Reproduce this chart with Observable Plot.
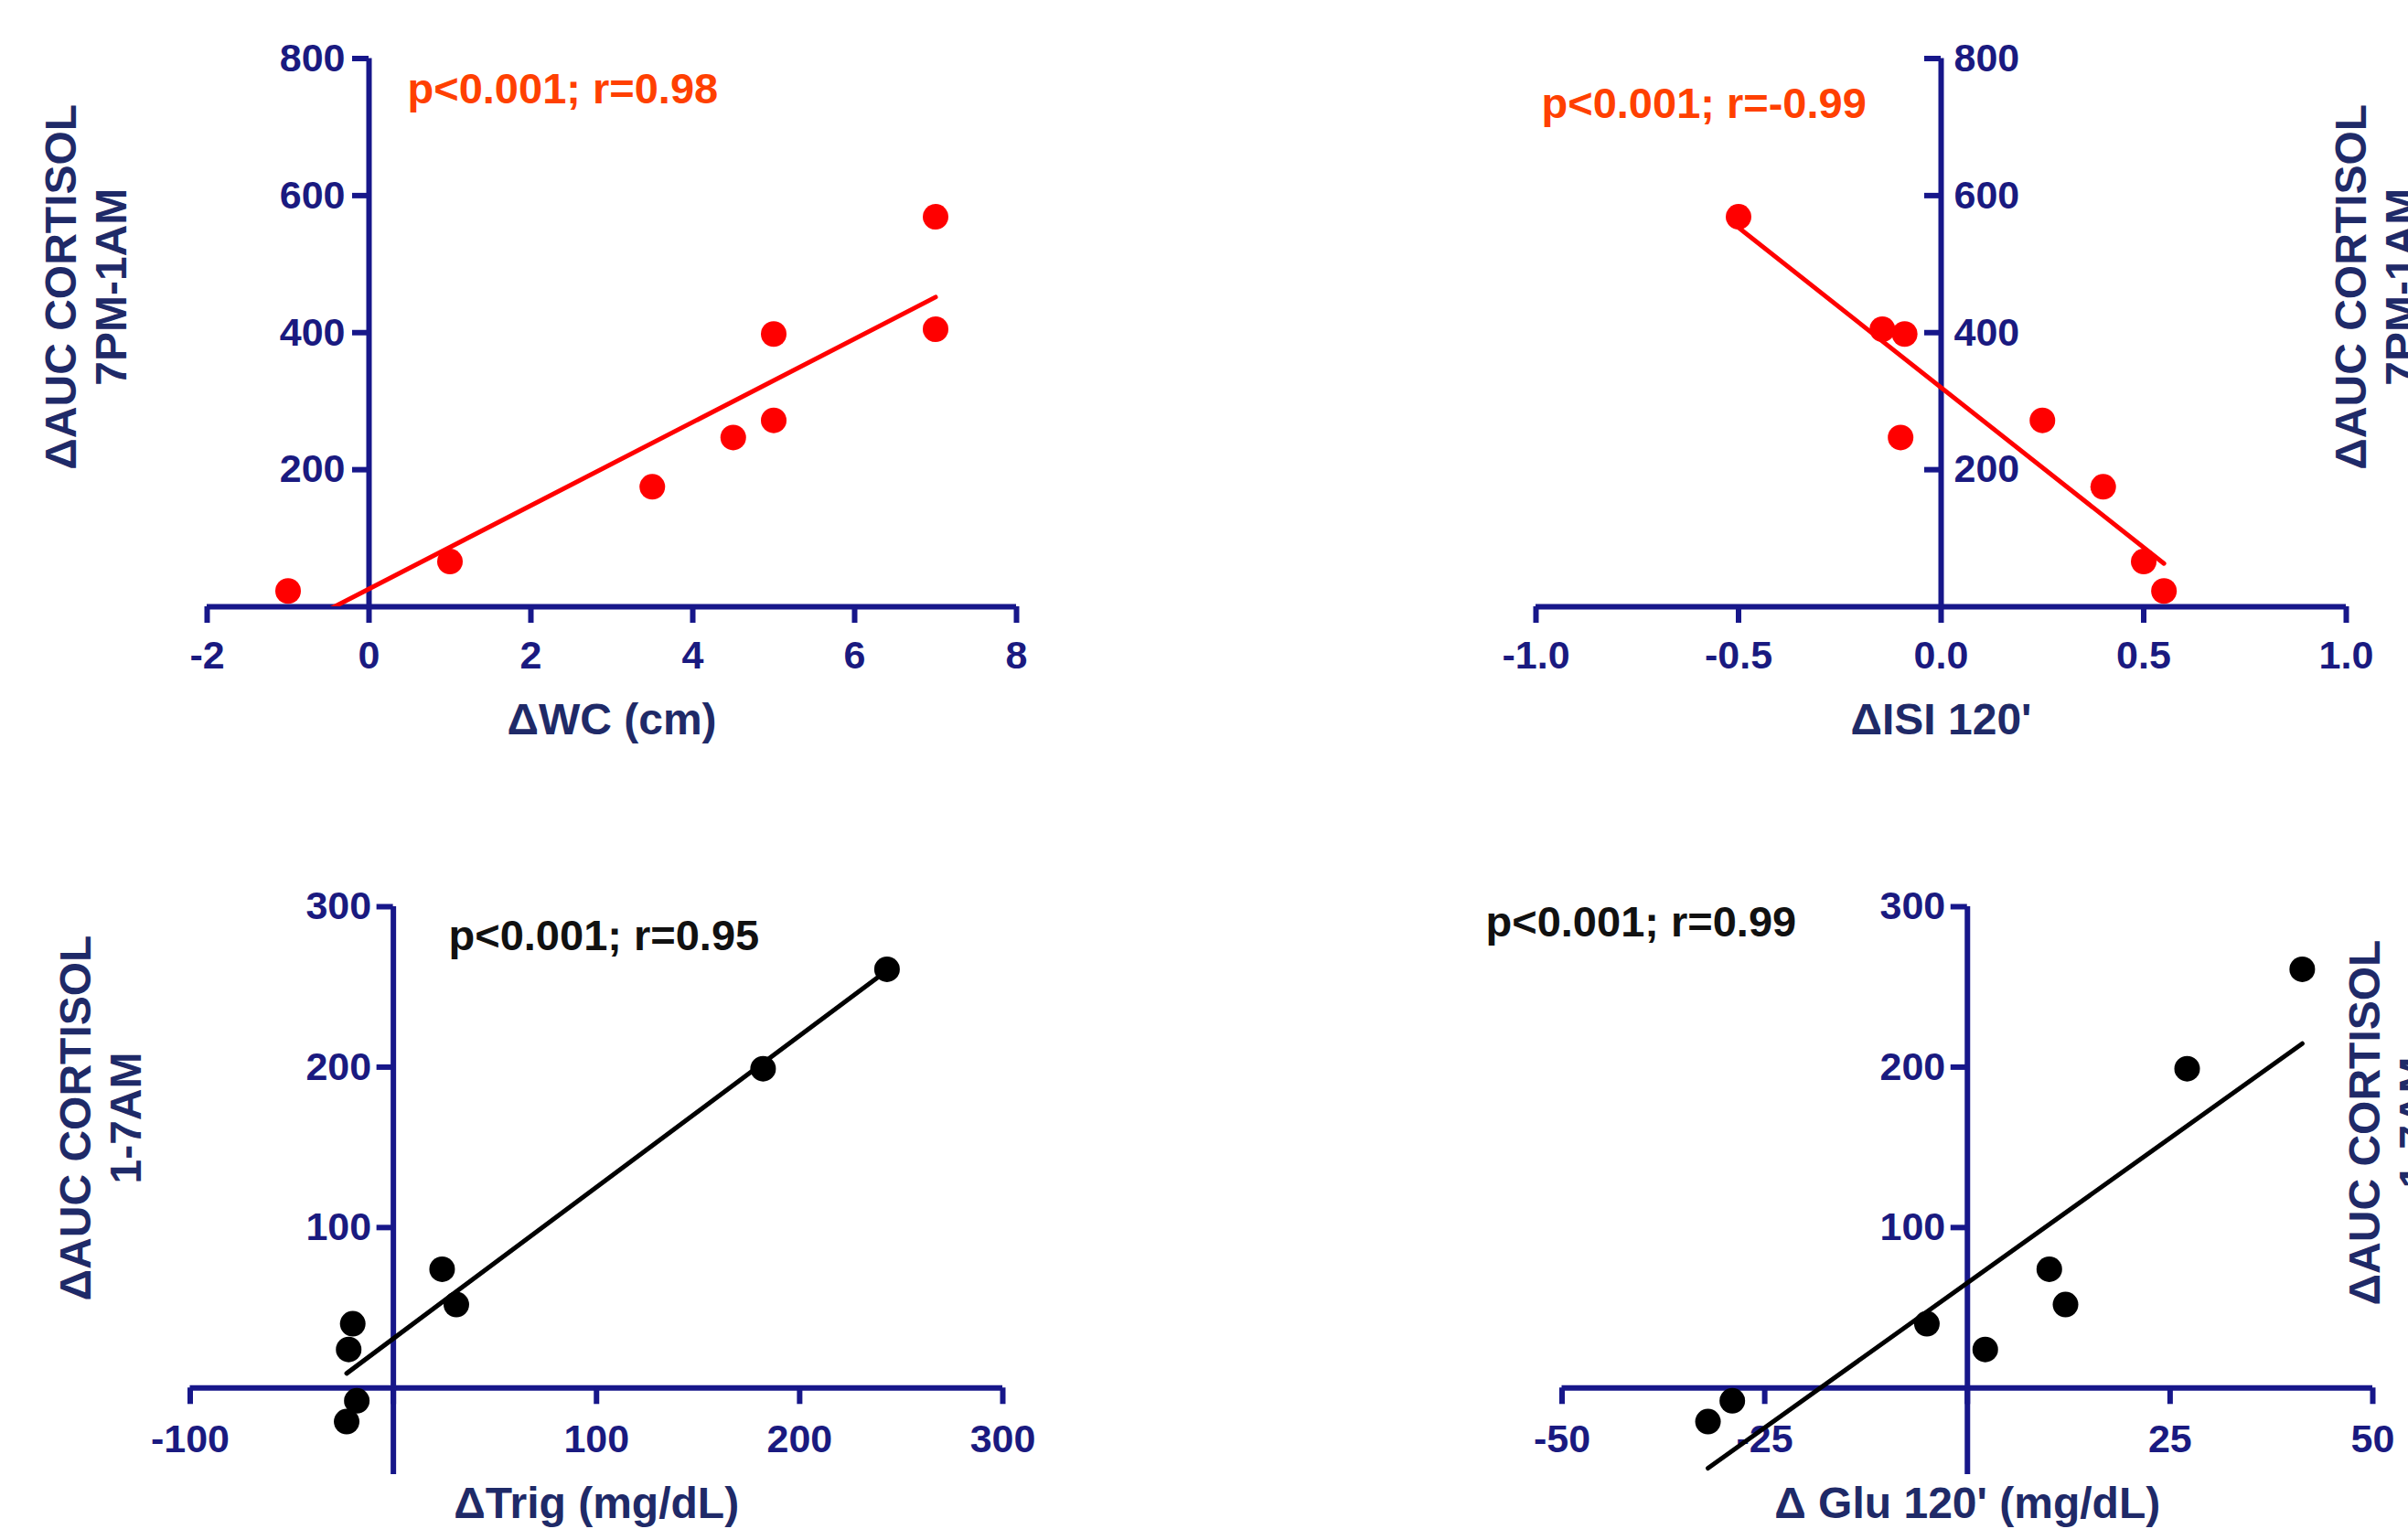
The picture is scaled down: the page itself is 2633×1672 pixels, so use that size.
<!DOCTYPE html>
<html>
<head>
<meta charset="utf-8">
<script src="https://cdn.jsdelivr.net/npm/d3@7"></script>
<script src="https://cdn.jsdelivr.net/npm/@observablehq/plot@0.6"></script>
<style>
  body { margin: 0; background: #fff; }
  #fig { position: relative; width: 2633px; height: 1672px; overflow: hidden; background: #fff; }
  #fig svg { position: absolute; overflow: hidden; max-width: none; }
</style>
</head>
<body>
<div id="fig"></div>
<script>
// ---------------- data ----------------
// ΔAUC cortisol 7PM-1AM (same 8 subjects in top panels)
const cortisol7pm1am = [23, 66, 175, 247, 272, 398, 405, 569];
const deltaWC        = [-1, 1, 3.5, 4.5, 5, 5, 7, 7];
const deltaISI120    = [0.55, 0.5, 0.4, -0.1, 0.25, -0.09, -0.145, -0.5];
// ΔAUC cortisol 1-7AM (same 8 subjects in bottom panels)
const cortisol1am7am = [261, 199, 74, 52, 40, 24, -8, -21];
const deltaTrig      = [243, 182, 24, 31, -20, -22, -18, -23];
const deltaGlu120    = [41.3, 27.1, 10.1, 12.1, -5, 2.2, -29, -32];

// axis ticks / extents
const xTicksWC   = [-2, 0, 2, 4, 6, 8];
const xTicksISI  = [-1, -0.5, 0, 0.5, 1];
const xTicksTrig = [-100, 0, 100, 200, 300];
const xTicksGlu  = [-50, -25, 0, 25, 50];
const xLabelsTrig = [-100, 100, 200, 300];
const xLabelsGlu  = [-50, -25, 25, 50];
const yAxisTop    = [0, 800];
const yTicksTop   = [200, 400, 600, 800];
const yAxisBottom = [-54, 300];
const yTicksBottom = [100, 200, 300];

// texts
const statTexts = ["p<0.001; r=0.98", "p<0.001; r=-0.99", "p<0.001; r=0.95", "p<0.001; r=0.99"];
const xTitles = ["\u0394WC (cm)", "\u0394ISI 120'", "\u0394Trig (mg/dL)", "\u0394 Glu 120' (mg/dL)"];
const yTitles = ["\u0394AUC CORTISOL\n7PM-1AM", "\u0394AUC CORTISOL\n7PM-1AM",
                 "\u0394AUC CORTISOL\n1-7AM", "\u0394AUC CORTISOL\n1-7AM"];

// ---------------- styles ----------------
const FONT = "Liberation Sans, Arial, Helvetica, sans-serif";
const AXIS = "#17178a";
const TICKTXT = "#1a1a80";
const TITLE = "#1f2a68";
const TICK = 18;
const AXW = 6;

const fig = document.getElementById("fig");

function panel(c) {
  const data = c.x.map((x, i) => ({x, y: c.y[i]}));
  const [x0, x1] = d3.extent(c.xTicks);
  const [y0, y1] = d3.extent(c.yAxis);
  const txt = {fontFamily: FONT, fontWeight: "bold"};
  const plot = Plot.plot({
    width: c.w, height: c.h,
    marginLeft: c.ml, marginRight: c.mr, marginTop: c.mt, marginBottom: c.mb,
    x: {domain: [x0, x1], axis: null},
    y: {domain: [y0, y1], axis: null},
    marks: [
      // axis lines crossing at zero
      Plot.ruleY([0], {x1: x0, x2: x1, stroke: AXIS, strokeWidth: AXW}),
      Plot.ruleX([0], {y1: y0, y2: y1, stroke: AXIS, strokeWidth: AXW}),
      // tick marks
      Plot.ruleX(c.xTicks, {x: d => d, y1: 0, y2: 0, insetBottom: -TICK, stroke: AXIS, strokeWidth: AXW}),
      Plot.ruleY(c.yTicks, {y: d => d, x1: 0, x2: 0, insetLeft: -TICK, stroke: AXIS, strokeWidth: AXW}),
      // tick labels
      Plot.text(c.xLabels, {x: d => d, y: 0, text: c.fmt, dy: c.xLabelDy, lineAnchor: "top",
        textAnchor: "middle", fill: TICKTXT, fontSize: 43, ...txt}),
      Plot.text(c.yTicks, {x: 0, y: d => d, text: d => String(d), dx: c.yLabelDx, textAnchor: c.yLabelAnchor,
        lineAnchor: "middle", fill: TICKTXT, fontSize: 43, ...txt}),
      // regression + points
      Plot.linearRegressionY(data, {x: "x", y: "y", stroke: c.color, strokeWidth: 5, ci: 0, clip: true}),
      Plot.dot(data, {x: "x", y: "y", r: 14, fill: c.color, stroke: "none"}),
      // stats annotation
      Plot.text([c.stat], {text: d => d, frameAnchor: "top-left", dx: c.statDx, dy: c.statDy,
        textAnchor: "start", lineAnchor: "bottom", fill: c.statColor, fontSize: 47, ...txt}),
      // axis titles
      Plot.text([c.xTitle], {text: d => d, frameAnchor: "bottom", dy: c.xTitleDy, lineAnchor: "top",
        textAnchor: "middle", fill: TITLE, fontSize: 48, ...txt}),
      Plot.text([c.yTitle], {text: d => d, frameAnchor: c.yTitleAnchor, rotate: -90,
        dx: c.yTitleDx, dy: c.yTitleDy, textAnchor: "middle", lineAnchor: "middle", lineHeight: 1.15,
        fill: TITLE, fontSize: 48, ...txt})
    ]
  });
  plot.style.left = c.left + "px";
  plot.style.top = c.top + "px";
  plot.style.background = "transparent";
  fig.append(plot);
}

const intFmt = d => String(d);

panel({
  left: 0, top: 0, w: 1316, h: 836, ml: 226, mr: 205, mt: 63.5, mb: 173,
  x: deltaWC, y: cortisol7pm1am, xTicks: xTicksWC, xLabels: xTicksWC, fmt: intFmt,
  yAxis: yAxisTop, yTicks: yTicksTop, yLabelDx: -26, yLabelAnchor: "end", xLabelDy: 37,
  color: "#ff0000", stat: statTexts[0], statColor: "#ff4000", statDx: 219, statDy: 48.5,
  xTitle: xTitles[0], xTitleDy: 105,
  yTitle: yTitles[0], yTitleAnchor: "left", yTitleDx: -133.5, yTitleDy: -50
});

panel({
  left: 1316, top: 0, w: 1317, h: 836, ml: 363, mr: 68, mt: 63.5, mb: 173,
  x: deltaISI120, y: cortisol7pm1am, xTicks: xTicksISI, xLabels: xTicksISI, fmt: d => d.toFixed(1),
  yAxis: yAxisTop, yTicks: yTicksTop, yLabelDx: 14, yLabelAnchor: "start", xLabelDy: 37,
  color: "#ff0000", stat: statTexts[1], statColor: "#ff4000", statDx: 6, statDy: 64.5,
  xTitle: xTitles[1], xTitleDy: 105,
  yTitle: yTitles[1], yTitleAnchor: "right", yTitleDx: 31.5, yTitleDy: -50
});

panel({
  left: 0, top: 836, w: 1316, h: 836, ml: 207.5, mr: 220, mt: 155, mb: 60,
  x: deltaTrig, y: cortisol1am7am, xTicks: xTicksTrig, xLabels: xLabelsTrig, fmt: intFmt,
  yAxis: yAxisBottom, yTicks: yTicksBottom, yLabelDx: -24, yLabelAnchor: "end", xLabelDy: 40,
  color: "#000000", stat: statTexts[2], statColor: "#111111", statDx: 282.5, statDy: 47,
  xTitle: xTitles[2], xTitleDy: 13,
  yTitle: yTitles[2], yTitleAnchor: "left", yTitleDx: -99, yTitleDy: -79.5
});

panel({
  left: 1316, top: 836, w: 1317, h: 836, ml: 391.5, mr: 39, mt: 155, mb: 60,
  x: deltaGlu120, y: cortisol1am7am, xTicks: xTicksGlu, xLabels: xLabelsGlu, fmt: intFmt,
  yAxis: yAxisBottom, yTicks: yTicksBottom, yLabelDx: -24, yLabelAnchor: "end", xLabelDy: 40,
  color: "#000000", stat: statTexts[3], statColor: "#111111", statDx: -83.5, statDy: 32,
  xTitle: xTitles[3], xTitleDy: 13,
  yTitle: yTitles[3], yTitleAnchor: "right", yTitleDx: 17.5, yTitleDy: -74.5
});
</script>
</body>
</html>
